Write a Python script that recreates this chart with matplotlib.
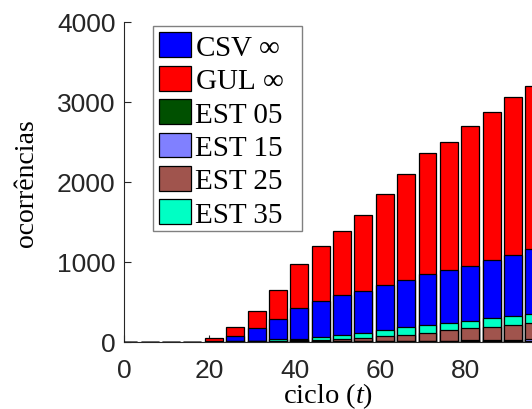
import matplotlib.pyplot as plt
from matplotlib.patches import Rectangle
import numpy as np

plt.rcParams['mathtext.fontset'] = 'custom'
plt.rcParams['mathtext.rm'] = 'Liberation Serif'
plt.rcParams['mathtext.it'] = 'Liberation Serif:italic'

# ciclos (um a cada 5)
ciclo = [1, 6, 11, 16, 21, 26, 31, 36, 41, 46, 51, 56, 61, 66, 71, 76, 81, 86, 91, 96]

# alturas de cada serie (barras sobrepostas a partir de zero)
gul = [0, 0, 0, 0, 46, 188, 384, 646, 971, 1196, 1380, 1588, 1842, 2092, 2355, 2500, 2700, 2875, 3055, 3200]
csv = [0, 0, 0, 0, 15, 75, 175, 284, 425, 508, 584, 630, 709, 767, 842, 892, 946, 1017, 1080, 1155]
est35 = [0, 0, 0, 0, 2, 6, 14, 30, 38, 58, 84, 113, 142, 188, 213, 230, 255, 296, 317, 342]
est25 = [0, 0, 0, 0, 1, 3, 6, 12, 18, 25, 32, 46, 71, 84, 105, 146, 167, 180, 209, 234]
est15 = [0, 0, 0, 0, 0, 0, 1, 2, 3, 4, 5, 6, 8, 10, 12, 15, 18, 20, 24, 28]
est05 = [0, 0, 0, 0, 0, 2, 5, 10, 12, 10, 8, 6, 5, 5, 5, 5, 5, 5, 5, 5]

series = [
    ('CSV $\\infty$', csv, '#0000ff'),
    ('GUL $\\infty$', gul, '#ff0000'),
    ('EST 05', est05, '#005000'),
    ('EST 15', est15, '#8080ff'),
    ('EST 25', est25, '#a0544d'),
    ('EST 35', est35, '#00ffc4'),
]

W, H = 532, 410
fig = plt.figure(figsize=(W / 100, H / 100), dpi=100)
ax = fig.add_axes([124 / W, 67.3 / H, 408 / W, 320 / H])

# desenha da maior para a menor, para que todas fiquem visiveis
order = sorted(range(len(series)), key=lambda i: -max(series[i][1]))
handles = {}
for z, i in enumerate(order):
    label, vals, cor = series[i]
    b = ax.bar(ciclo, vals, width=4.2, color=cor, edgecolor='k',
               linewidth=0.9, zorder=2 + z, label=label)
    handles[i] = b

ax.set_xlim(0, 95.44)
ax.set_ylim(0, 4000)
ax.set_xticks([0, 20, 40, 60, 80])
ax.set_yticks([0, 1000, 2000, 3000, 4000])

for s in ['top', 'right']:
    ax.spines[s].set_visible(False)
for s in ['left', 'bottom']:
    ax.spines[s].set_color('#262626')
    ax.spines[s].set_linewidth(0.8)
ax.tick_params(direction='in', length=5, width=0.8, colors='#262626',
               labelsize=19)
ax.tick_params(axis='x', pad=12)
ax.tick_params(axis='y', pad=6)
for t in ax.get_xticklabels() + ax.get_yticklabels():
    t.set_fontfamily('Liberation Sans')

ax.set_xlabel('ciclo ($t$)', fontsize=20.5, family='Liberation Serif', labelpad=-1.5)
ax.set_ylabel('ocorrências', fontsize=20, family='Liberation Serif', labelpad=13)

# moldura da legenda desenhada a parte (mais larga que o texto)
moldura = Rectangle((153 / W, 1 - 232 / H), 149 / W, 205 / H,
                    transform=fig.transFigure, facecolor='white',
                    edgecolor='#808080', linewidth=1.0, zorder=19,
                    clip_on=False)
ax.add_patch(moldura)

leg = ax.legend([handles[i] for i in range(len(series))],
                [s[0] for s in series],
                loc='upper left', bbox_to_anchor=(153 / W, 1 - 27 / H),
                bbox_transform=fig.transFigure,
                prop={'family': 'Liberation Serif', 'size': 21},
                handlelength=1.07, handleheight=0.93, handletextpad=0.15,
                labelspacing=0.17, borderpad=0.22, borderaxespad=0,
                frameon=False)
leg.set_zorder(20)

fig.savefig('out.png', dpi=100)
